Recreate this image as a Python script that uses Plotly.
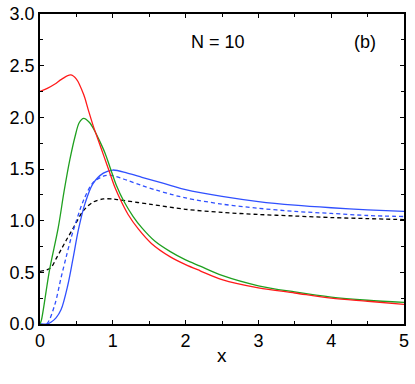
import plotly.graph_objects as go

# ---- data ----
red_x = [0, 0.1, 0.2, 0.3, 0.42, 0.5, 0.6, 0.66, 0.73, 0.82, 0.88, 0.94, 1.03, 1.12, 1.21, 1.35, 1.53, 1.79, 2.0, 2.2, 2.5, 3.0, 3.5, 4.0, 4.5, 5.0]
red_y = [2.25, 2.28, 2.32, 2.37, 2.41, 2.37, 2.22, 2.08, 1.92, 1.74, 1.62, 1.50, 1.32, 1.18, 1.06, 0.92, 0.78, 0.65, 0.575, 0.515, 0.43, 0.35, 0.30, 0.25, 0.22, 0.19]

green_x = [0, 0.02, 0.13, 0.25, 0.33, 0.41, 0.48, 0.54, 0.6, 0.68, 0.75, 0.82, 0.89, 0.96, 1.05, 1.15, 1.28, 1.40, 1.58, 1.79, 2.0, 2.2, 2.5, 3.0, 3.5, 4.0, 4.5, 5.0]
green_y = [0, 0.04, 0.52, 0.93, 1.28, 1.59, 1.81, 1.95, 1.99, 1.95, 1.87, 1.77, 1.66, 1.52, 1.34, 1.19, 1.04, 0.93, 0.80, 0.70, 0.62, 0.56, 0.47, 0.37, 0.31, 0.26, 0.23, 0.21]

blue_x = [0, 0.1, 0.155, 0.22, 0.29, 0.38, 0.45, 0.53, 0.62, 0.73, 0.87, 1.0, 1.2, 1.4, 1.6, 1.8, 2.0, 2.5, 3.0, 3.5, 4.0, 4.5, 5.0]
blue_y = [0, 0.0, 0.02, 0.06, 0.14, 0.37, 0.62, 0.92, 1.17, 1.36, 1.46, 1.49, 1.46, 1.42, 1.38, 1.34, 1.30, 1.235, 1.185, 1.15, 1.125, 1.105, 1.09]

blue_d_x = [0, 0.09, 0.2, 0.29, 0.36, 0.43, 0.5, 0.6, 0.73, 0.87, 0.96, 1.2, 1.4, 1.6, 1.8, 2.0, 2.5, 3.0, 3.5, 4.0, 4.5, 5.0]
blue_d_y = [0, 0.0, 0.18, 0.45, 0.65, 0.84, 1.0, 1.2, 1.37, 1.43, 1.44, 1.39, 1.34, 1.295, 1.255, 1.22, 1.16, 1.12, 1.09, 1.07, 1.05, 1.04]

black_d_x = [0, 0.08, 0.155, 0.22, 0.29, 0.36, 0.45, 0.6, 0.73, 0.87, 1.0, 1.1, 1.5, 2.0, 2.5, 3.0, 3.5, 4.0, 4.5, 5.0]
black_d_y = [0.51, 0.52, 0.55, 0.63, 0.72, 0.81, 0.92, 1.10, 1.18, 1.21, 1.21, 1.20, 1.16, 1.11, 1.08, 1.06, 1.045, 1.03, 1.02, 1.01]

x_ticks = [0, 1, 2, 3, 4, 5]
y_ticks = [0.0, 0.5, 1.0, 1.5, 2.0, 2.5, 3.0]
y_tick_labels = ["0.0", "0.5", "1.0", "1.5", "2.0", "2.5", "3.0"]

FONT = "Liberation Sans, Arial, sans-serif"

fig = go.Figure()

def add(xs, ys, color, dash="solid"):
    fig.add_trace(go.Scatter(x=xs, y=ys, mode="lines",
                             line=dict(color=color, width=1.3, dash=dash, shape="spline", smoothing=0.9),
                             showlegend=False, hoverinfo="skip"))

add(black_d_x, black_d_y, "#000000", "4px,3px")
add(blue_d_x, blue_d_y, "#3050ff", "4px,3px")
add(blue_x, blue_y, "#3050ff")
add(green_x, green_y, "#1fa01f")
add(red_x, red_y, "#ff1a1a")

axis_common = dict(showline=True, linecolor="black", linewidth=1.5, mirror="allticks",
                   ticks="inside", ticklen=4, tickwidth=1, tickcolor="black",
                   showgrid=False, zeroline=False, automargin=False,
                   tickfont=dict(family=FONT, size=18, color="black"))

fig.update_xaxes(range=[0, 5], tickvals=x_ticks, **axis_common,
                 minor=dict(ticks="inside", ticklen=3, dtick=0.5, tick0=0, tickcolor="black", showgrid=False))
fig.update_yaxes(range=[0, 3], tickvals=y_ticks, ticktext=y_tick_labels, **axis_common,
                 minor=dict(ticks="inside", ticklen=3, dtick=0.25, tick0=0, tickcolor="black", showgrid=False))

fig.add_annotation(x=0.5, y=-0.1, xref="paper", yref="paper", text="x", showarrow=False,
                   yanchor="middle", font=dict(family=FONT, size=19, color="black"))
fig.add_annotation(x=2.45, y=2.73, text="N = 10", showarrow=False, xref="x", yref="y",
                   font=dict(family=FONT, size=18, color="black"))
fig.add_annotation(x=4.46, y=2.73, text="(b)", showarrow=False, xref="x", yref="y",
                   font=dict(family=FONT, size=18, color="black"))

fig.update_layout(width=415, height=384, margin=dict(l=40, r=11, t=14, b=60),
                  plot_bgcolor="white", paper_bgcolor="white")

# remove the browser's default 8px body margin so the figure sits at the page corner
fig.write_html("out.html", config={"displayModeBar": False},
               post_script="document.body.style.margin='0';")
